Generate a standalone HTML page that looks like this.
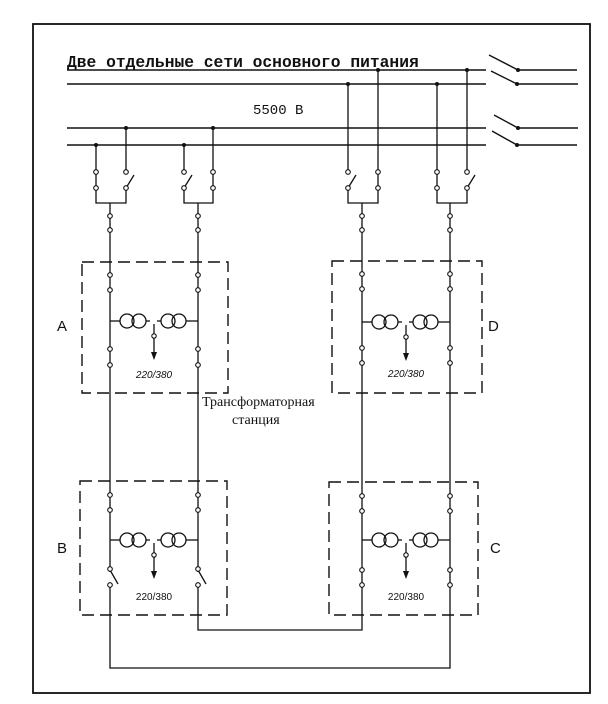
<!DOCTYPE html>
<html><head><meta charset="utf-8"><style>
html,body{margin:0;padding:0;background:#fff;}
svg{display:block;}
</style></head><body>
<svg width="608" height="704" viewBox="0 0 608 704" xmlns="http://www.w3.org/2000/svg">
<g fill="none" stroke="#111" stroke-width="1.4">
<rect x="33" y="24" width="557" height="669" stroke-width="1.8"/>
<line x1="67" y1="70" x2="486" y2="70"/>
<line x1="67" y1="84" x2="486" y2="84"/>
<line x1="67" y1="128" x2="486" y2="128"/>
<line x1="67" y1="145" x2="486" y2="145"/>
<line x1="489" y1="55" x2="518" y2="70"/><line x1="518" y1="70" x2="577" y2="70"/>
<line x1="491" y1="71" x2="517" y2="84"/><line x1="517" y1="84" x2="578" y2="84"/>
<line x1="494" y1="115" x2="518" y2="128"/><line x1="518" y1="128" x2="578" y2="128"/>
<line x1="492" y1="131" x2="517" y2="145"/><line x1="517" y1="145" x2="577" y2="145"/>
</g>
<g fill="#111">
<circle cx="518" cy="70" r="2"/><circle cx="517" cy="84" r="2"/><circle cx="518" cy="128" r="2"/><circle cx="517" cy="145" r="2"/>
<circle cx="96" cy="145" r="2"/><circle cx="126" cy="128" r="2"/>
<circle cx="184" cy="145" r="2"/><circle cx="213" cy="128" r="2"/>
<circle cx="348" cy="84" r="2"/><circle cx="378" cy="70" r="2"/>
<circle cx="437" cy="84" r="2"/><circle cx="467" cy="70" r="2"/>
</g>
<g fill="none" stroke="#111" stroke-width="1.3">
<path d="M96 145V170M96 174V186M96 190V203H126V190M126 174V128"/>
<line x1="126" y1="188" x2="134" y2="175"/>
<path d="M184 145V170M184 190V203H213V190M213 186V174M213 170V128"/>
<line x1="184" y1="188" x2="192" y2="175"/>
<path d="M348 84V170M348 190V203H378V190M378 186V174M378 170V70"/>
<line x1="348" y1="188" x2="356" y2="175"/>
<path d="M437 84V170M437 174V186M437 190V203H467V190M467 170V70"/>
<line x1="467" y1="188" x2="475" y2="175"/>
<!-- main verticals -->
<path d="M110 203V668H450V203"/>
<path d="M198 203V630H362V203"/>
</g>
<g fill="#fff" stroke="#111" stroke-width="1.1">
<circle cx="96" cy="172" r="2.3"/><circle cx="96" cy="188" r="2.3"/><circle cx="126" cy="172" r="2.3"/><circle cx="126" cy="188" r="2.3"/>
<circle cx="184" cy="172" r="2.3"/><circle cx="184" cy="188" r="2.3"/><circle cx="213" cy="172" r="2.3"/><circle cx="213" cy="188" r="2.3"/>
<circle cx="348" cy="172" r="2.3"/><circle cx="348" cy="188" r="2.3"/><circle cx="378" cy="172" r="2.3"/><circle cx="378" cy="188" r="2.3"/>
<circle cx="437" cy="172" r="2.3"/><circle cx="437" cy="188" r="2.3"/><circle cx="467" cy="172" r="2.3"/><circle cx="467" cy="188" r="2.3"/>
<circle cx="110" cy="216" r="2.3"/><circle cx="110" cy="230" r="2.3"/><circle cx="198" cy="216" r="2.3"/><circle cx="198" cy="230" r="2.3"/>
<circle cx="362" cy="216" r="2.3"/><circle cx="362" cy="230" r="2.3"/><circle cx="450" cy="216" r="2.3"/><circle cx="450" cy="230" r="2.3"/>
</g>
<g fill="none" stroke="#111" stroke-width="1.4" stroke-dasharray="12,6">
<rect x="82" y="262" width="146" height="131"/>
<rect x="80" y="481" width="147" height="134"/>
<rect x="332" y="261" width="150" height="132"/>
<rect x="329" y="482" width="149" height="133"/>
</g>
<g fill="none" stroke="#111" stroke-width="1.3">
<g id="tA">
<line x1="110" y1="321" x2="120" y2="321"/>
<circle cx="127" cy="321" r="7"/><circle cx="139" cy="321" r="7"/>
<line x1="146" y1="321" x2="150" y2="321"/>
<line x1="157" y1="321" x2="161" y2="321"/>
<circle cx="168" cy="321" r="7"/><circle cx="179" cy="321" r="7"/>
<line x1="186" y1="321" x2="198" y2="321"/>
<line x1="154" y1="324" x2="154" y2="356"/>
</g>
<use href="#tA" transform="translate(0,219)"/>
<use href="#tA" transform="translate(252,1)"/>
<use href="#tA" transform="translate(252,219)"/>
</g>
<g fill="#111">
<path d="M151 352L154 360L157 352Z"/><path d="M151 571L154 579L157 571Z"/>
<path d="M403 353L406 361L409 353Z"/><path d="M403 571L406 579L409 571Z"/>
</g>
<g fill="#fff" stroke="#111" stroke-width="1.1">
<circle cx="154" cy="336" r="2.2"/><circle cx="154" cy="555" r="2.2"/><circle cx="406" cy="337" r="2.2"/><circle cx="406" cy="555" r="2.2"/>
<circle cx="110" cy="275" r="2.3"/><circle cx="110" cy="290" r="2.3"/><circle cx="110" cy="349" r="2.3"/><circle cx="110" cy="365" r="2.3"/>
<circle cx="198" cy="275" r="2.3"/><circle cx="198" cy="290" r="2.3"/><circle cx="198" cy="349" r="2.3"/><circle cx="198" cy="365" r="2.3"/>
<circle cx="362" cy="274" r="2.3"/><circle cx="362" cy="289" r="2.3"/><circle cx="362" cy="348" r="2.3"/><circle cx="362" cy="363" r="2.3"/>
<circle cx="450" cy="274" r="2.3"/><circle cx="450" cy="289" r="2.3"/><circle cx="450" cy="348" r="2.3"/><circle cx="450" cy="363" r="2.3"/>
<circle cx="110" cy="495" r="2.3"/><circle cx="110" cy="510" r="2.3"/><circle cx="198" cy="495" r="2.3"/><circle cx="198" cy="510" r="2.3"/>
<circle cx="362" cy="496" r="2.3"/><circle cx="362" cy="511" r="2.3"/><circle cx="450" cy="496" r="2.3"/><circle cx="450" cy="511" r="2.3"/>
<circle cx="362" cy="570" r="2.3"/><circle cx="362" cy="585" r="2.3"/><circle cx="450" cy="570" r="2.3"/><circle cx="450" cy="585" r="2.3"/>
</g>
<g stroke="#111" stroke-width="1.3" fill="#fff">
<rect x="104" y="572" width="12" height="11" stroke="none"/>
<rect x="192" y="572" width="12" height="11" stroke="none"/>
<line x1="110" y1="570" x2="118" y2="584" fill="none"/>
<line x1="198" y1="570" x2="206" y2="584" fill="none"/>
<circle cx="110" cy="569" r="2.3" stroke-width="1.1"/><circle cx="110" cy="585" r="2.3" stroke-width="1.1"/>
<circle cx="198" cy="569" r="2.3" stroke-width="1.1"/><circle cx="198" cy="585" r="2.3" stroke-width="1.1"/>
</g>
<g font-family="Liberation Sans, sans-serif" fill="#111">
<text x="67" y="67" font-family="Liberation Mono, monospace" font-size="16.3" font-weight="bold">Две отдельные сети основного питания</text>
<text x="253" y="114" font-family="Liberation Mono, monospace" font-size="14">5500 В</text>
<text x="57" y="331" font-size="15">A</text>
<text x="488" y="331" font-size="15">D</text>
<text x="57" y="553" font-size="15">B</text>
<text x="490" y="553" font-size="15">C</text>
<text x="154" y="378" font-size="10" font-style="italic" text-anchor="middle">220/380</text>
<text x="154" y="600" font-size="10" text-anchor="middle">220/380</text>
<text x="406" y="377" font-size="10" font-style="italic" text-anchor="middle">220/380</text>
<text x="406" y="600" font-size="10" text-anchor="middle">220/380</text>
<text x="202" y="406" font-family="Liberation Serif, serif" font-size="14">Трансформаторная</text>
<text x="232" y="424" font-family="Liberation Serif, serif" font-size="14">станция</text>
</g>
</svg>
</body></html>
